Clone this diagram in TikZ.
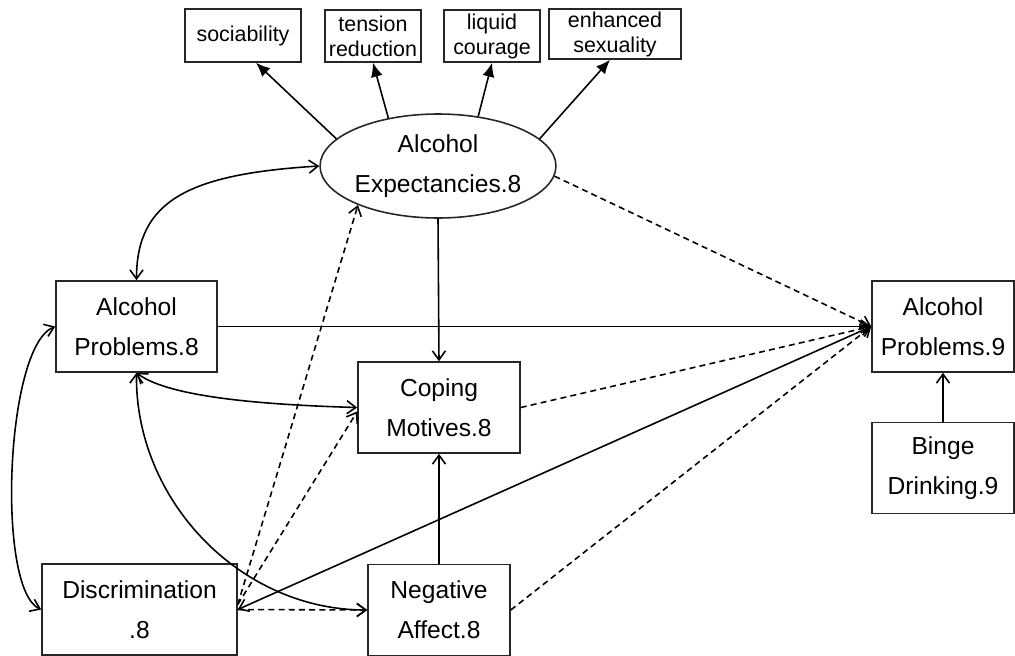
\documentclass[tikz,border=0pt]{standalone}
\usepackage{fontspec}
\setmainfont{Liberation Sans}
\usetikzlibrary{arrows.meta,shapes.geometric}

\tikzset{
	varbox/.style={draw=black!85, line width=0.9pt, rectangle, inner sep=0pt, align=center,
		minimum width=#1, minimum height=1.82cm, font={\fontsize{14}{22.7}\selectfont}},
	itembox/.style 2 args={draw=black!85, line width=0.9pt, rectangle, inner sep=0pt, align=center,
		minimum width=#1, minimum height=#2, font={\fontsize{12.2}{14.2}\selectfont}},
	latent/.style={draw=black!85, line width=0.9pt, ellipse, inner sep=0pt, align=center,
		minimum width=4.48cm, minimum height=2.08cm, font={\fontsize{14}{22.7}\selectfont}},
	reg/.style={line width=0.9pt, ->},
	dreg/.style={line width=0.9pt, ->, dash pattern=on 3.4pt off 2.4pt},
	covar/.style={line width=0.9pt, <->},
	loading/.style={line width=0.9pt, -{Latex[length=2.8mm,width=2.4mm]}}
}

\begin{document}
\begin{tikzpicture}[x=0.02cm, y=-0.02cm, >={Straight Barb[length=1.8mm,width=2.6mm]}]
		\useasboundingbox (0,0) rectangle (1015,656);
		
		%%%%% ITEMS %%%%%
		\node[itembox={2.32cm}{1.06cm}] (soc) at (243,35.5) {\raisebox{-0.1cm}{sociability}};
		\node[itembox={1.92cm}{1.04cm}] (tens) at (373,36) {tension\\reduction};
		\node[itembox={1.92cm}{1.04cm}] (liq) at (492,36) {liquid\\courage};
		\node[itembox={2.64cm}{1.0cm}] (enh) at (615,34) {enhanced\\sexuality};
		
		\node[latent] (ae) at (438,166) {Alcohol\\Expectancies.8};
		
		%%%%% VARIABLES %%%%%
		\node[varbox=3.22cm] (ap8) at (136.5,326.5) {Alcohol\\Problems.8};
		\node[varbox=3.24cm] (cop) at (439,407.5) {Coping\\Motives.8};
		\node[varbox=3.9cm] (dis) at (139.5,609.5) {Discrimination\\.8};
		\node[varbox=2.84cm] (neg) at (439,610) {Negative\\Affect.8};
		\node[varbox=2.84cm] (ap9) at (943,326.5) {Alcohol\\Problems.9};
		\node[varbox=2.84cm] (bin) at (943,468) {Binge\\Drinking.9};
		
		%%%%% LOADINGS %%%%%
		\draw[loading] (ae.165) -- ([xshift=0.26cm]soc.south);
		\draw[loading] (ae.136) -- (tens.south);
		\draw[loading] (ae.51) -- (liq.south);
		\draw[loading] (ae.15) -- ([xshift=-0.1cm]enh.south);
		
		%%%%% PATHS %%%%%
		\draw[reg] (ae.south) -- (cop.north);
		\draw[reg] (neg.north) -- (cop.south);
		\draw[reg] (bin.north) -- (ap9.south);
		\draw[reg] (ap8.east) -- (ap9.west);
		\draw[covar] (dis.east) -- (ap9.west);
		
		\draw[dreg] (ae.355) -- (ap9.west);
		\draw[dreg] (cop.east) -- (ap9.west);
		\draw[dreg] (neg.east) -- (ap9.west);
		\draw[dreg] (dis.east) -- (neg.west);
		\draw[dreg] ([yshift=0.1cm]dis.east) -- (ae.206);
		\draw[dreg] ([yshift=0.1cm]dis.east) -- ([yshift=-0.08cm]cop.west);
		
		%%%%% COVARIANCES %%%%%
		\draw[covar] (ap8.north) .. controls +(0,-80) and +(-130,8) .. (ae.west);
		\draw[covar] (ap8.west) .. controls +(-50,20) and +(-45,-20) .. (dis.west);
		\draw[covar] (ap8.south) .. controls (170,398) and (270,405) .. (cop.west);
		\draw[covar] (ap8.south) .. controls (135,500) and (240,610) .. (neg.west);
		
	\end{tikzpicture}
\end{document}
